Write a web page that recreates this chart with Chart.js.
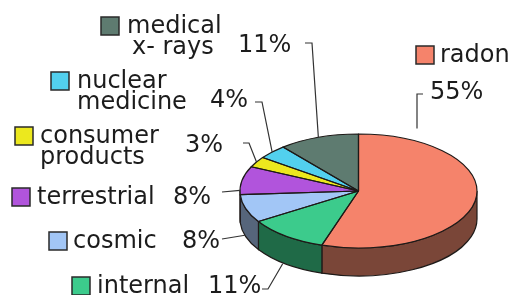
<!DOCTYPE html>
<html>
<head>
<meta charset="utf-8">
<script src="https://cdn.jsdelivr.net/npm/chart.js@4/dist/chart.umd.min.js"></script>
<style>
html,body{margin:0;padding:0;background:#fff;}
canvas{display:block;}
</style>
</head>
<body>
<canvas id="c" width="514" height="295"></canvas>
<script>
// ---- data ----
const categories = ['radon', 'internal', 'cosmic', 'terrestrial', 'consumer products', 'nuclear medicine', 'medical x-rays'];
const values = [55, 11, 8, 8, 3, 4, 11];
const legendLines = [['radon'], ['internal'], ['cosmic'], ['terrestrial'], ['consumer', 'products'], ['nuclear', 'medicine'], ['medical', 'x- rays']];
const pctLabels = values.map(v => v + '%');

// ---- styles ----
const topColors = ['#f5836b', '#3ccb8c', '#a2c6f6', '#b154dc', '#ece81e', '#52d0ee', '#5e7b70'];
const sideColors = ['#7a4638', '#1f6a47', '#56657b', '#6a2f86', '#8a8712', '#2a7a8c', '#34463f'];

// layout (px)
const CX = 358.5, CY = 191, RX = 118.5, RY = 57, DEPTH = 28;
const FONT = '24px "DejaVu Sans"';
const LINE_H = 21;
// legend layout: box x, text lines x, first baseline
const legendPos = [
  {bx: 416, tx: [440], by: 62},
  {bx: 72, tx: [97], by: 293},
  {bx: 49, tx: [73], by: 248},
  {bx: 12, tx: [37], by: 204},
  {bx: 15, tx: [40, 40], by: 143},
  {bx: 51, tx: [77, 77], by: 88},
  {bx: 101, tx: [127, 132], by: 33}
];
// percent label layout: text x, baseline, leader elbow points, anchor fraction in slice, side offset, gap
const pctPos = [
  {x: 430, y: 99, pts: [[423, 94], [417, 94]], f: 0.15, dy: 0, gap: 13, vertical: true},
  {x: 208, y: 293, pts: [[262, 289], [268, 289]], f: 0.55, dy: 29},
  {x: 182, y: 248, pts: [[222, 239]], f: 0.55, dy: 28},
  {x: 173, y: 204, pts: [[222, 192]], f: 0.15, dy: 0},
  {x: 185, y: 152, pts: [[243, 143], [249, 143]], f: 0.5, dy: 0},
  {x: 210, y: 107, pts: [[255, 102], [262, 102]], f: 0.5, dy: 0},
  {x: 238, y: 52, pts: [[305, 43], [312, 43]], f: 0.5, dy: 0}
];

const pie3d = {
  id: 'pie3d',
  beforeDatasetsDraw(chart) {
    const ctx = chart.ctx;
    const meta = chart.getDatasetMeta(0);
    // side walls (front half only: angles 0..PI)
    meta.data.forEach((el, i) => {
      const a0 = Math.max(el.startAngle, 0), a1 = Math.min(el.endAngle, Math.PI);
      if (a1 <= a0) return;
      ctx.save();
      ctx.beginPath();
      ctx.ellipse(CX, CY, RX, RY, 0, a0, a1);
      ctx.lineTo(CX + RX * Math.cos(a1), CY + RY * Math.sin(a1) + DEPTH);
      ctx.ellipse(CX, CY + DEPTH, RX, RY, 0, a1, a0, true);
      ctx.closePath();
      ctx.fillStyle = sideColors[i];
      ctx.fill();
      ctx.lineWidth = 1.2;
      ctx.strokeStyle = '#1e1a18';
      ctx.stroke();
      ctx.restore();
    });
    const el0 = meta.data[0];
    const r = el0.outerRadius;
    ctx.save();
    ctx.translate(CX, CY);
    ctx.scale(RX / r, RY / r);
    ctx.translate(-el0.x, -el0.y);
  },
  afterDatasetsDraw(chart) {
    const ctx = chart.ctx;
    ctx.restore();
    const meta = chart.getDatasetMeta(0);
    // outlines of top face
    meta.data.forEach((el) => {
      ctx.save();
      ctx.beginPath();
      ctx.moveTo(CX, CY);
      ctx.lineTo(CX + RX * Math.cos(el.startAngle), CY + RY * Math.sin(el.startAngle));
      ctx.ellipse(CX, CY, RX, RY, 0, el.startAngle, el.endAngle);
      ctx.closePath();
      ctx.lineWidth = 1.2;
      ctx.strokeStyle = '#1e1a18';
      ctx.lineJoin = 'round';
      ctx.stroke();
      ctx.restore();
    });
    // legend
    ctx.save();
    ctx.font = FONT;
    ctx.textBaseline = 'alphabetic';
    ctx.fillStyle = '#1c1c1c';
    legendLines.forEach((lines, i) => {
      const p = legendPos[i];
      ctx.fillStyle = topColors[i];
      ctx.fillRect(p.bx, p.by - 16, 18, 18);
      ctx.lineWidth = 1.5;
      ctx.strokeStyle = '#2a2a2a';
      ctx.strokeRect(p.bx, p.by - 16, 18, 18);
      ctx.fillStyle = '#1c1c1c';
      lines.forEach((t, j) => ctx.fillText(t, p.tx[j], p.by + j * LINE_H));
    });
    // percentages and leaders
    pctLabels.forEach((t, i) => {
      const p = pctPos[i];
      ctx.fillStyle = '#1c1c1c';
      ctx.fillText(t, p.x, p.y);
      const el = meta.data[i];
      const a = el.startAngle + p.f * (el.endAngle - el.startAngle);
      let ex = CX + RX * Math.cos(a), ey = CY + RY * Math.sin(a) + p.dy;
      if (p.vertical) { ex = p.pts[p.pts.length - 1][0]; ey = CY + RY * Math.sin(a) - p.gap; }
      ctx.beginPath();
      ctx.moveTo(p.pts[0][0], p.pts[0][1]);
      for (let k = 1; k < p.pts.length; k++) ctx.lineTo(p.pts[k][0], p.pts[k][1]);
      ctx.lineTo(ex, ey);
      ctx.lineWidth = 1.2;
      ctx.strokeStyle = '#333';
      ctx.stroke();
    });
    ctx.restore();
  }
};

new Chart(document.getElementById('c'), {
  type: 'pie',
  data: {
    labels: categories,
    datasets: [{data: values, backgroundColor: topColors, borderWidth: 0, hoverOffset: 0}]
  },
  options: {
    responsive: false,
    animation: false,
    events: [],
    layout: {padding: {left: 240, right: 37, top: 0, bottom: 0}},
    plugins: {legend: {display: false}, tooltip: {enabled: false}}
  },
  plugins: [pie3d]
});
</script>
</body>
</html>
